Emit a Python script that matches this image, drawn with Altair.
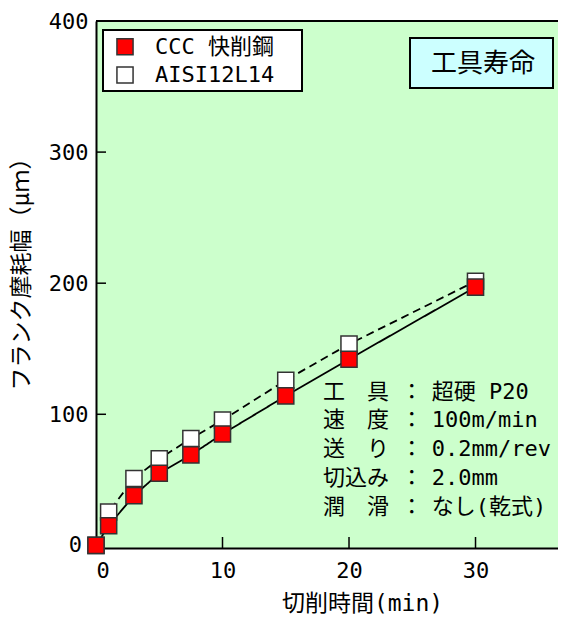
import altair as alt
import pandas as pd

# ---- data ----
time_min = [0, 1, 3, 5, 7.5, 10, 15, 20, 30]
ccc_wear = [0, 15, 38, 55, 69, 85, 114, 142, 197]
aisi_wear = [0, 25.5, 51, 66, 81.5, 95.5, 126, 153.5, 201.5]
series_names = ["CCC 快削鋼", "AISI12L14"]
series_fill = ["#ff0000", "#ffffff"]
x_ticks = [0, 10, 20, 30]
y_ticks = [0, 100, 200, 300, 400]
inner_x_ticks = [10, 20, 30]
inner_y_ticks = [100, 200, 300]
cond_labels = ["工　具", "速　度", "送　り", "切込み", "潤　滑"]
cond_values = ["超硬 P20", "100m/min", "0.2mm/rev", "2.0mm", "なし(乾式)"]
box_title = "工具寿命"
x_title = "切削時間(min)"
y_title = "フランク摩耗幅（μｍ）"

FONT = "DejaVu Sans Mono, Noto Sans CJK JP"
W, H = 462, 527

df = pd.DataFrame({
    "t": time_min + time_min,
    "wear": aisi_wear + ccc_wear,
    "series": [series_names[1]] * len(time_min) + [series_names[0]] * len(time_min),
})

xs = alt.Scale(domain=[0, 36.52], nice=False, zero=False)
ys = alt.Scale(domain=[-2, 400], nice=False, zero=False)

x_axis = alt.Axis(values=x_ticks, tickSize=0, labelPadding=12, labelFontSize=22,
                  labelFont=FONT, labelColor="black", title=x_title, titleFont=FONT,
                  titleFontSize=23, titleFontWeight="normal", titleColor="black",
                  titleX=266, titleY=55, titleBaseline="middle", titleAlign="center",
                  domainColor="black", domainWidth=2, grid=False)
y_axis = alt.Axis(values=y_ticks, tickSize=0, labelPadding=8, labelFontSize=22,
                  labelFont=FONT, labelColor="black", title=y_title, titleFont=FONT,
                  titleFontSize=23, titleFontWeight="normal", titleColor="black",
                  titleX=-75, titleY=247, titleBaseline="middle", titleAlign="center",
                  labelExpr="datum.value == 0 ? '' : datum.label",
                  domainColor="black", domainWidth=2, grid=False)

base = alt.Chart(df)
X = alt.X("t:Q", scale=xs, axis=x_axis)
Y = alt.Y("wear:Q", scale=ys, axis=y_axis)

lines = base.mark_line(color="black", strokeWidth=1.8).encode(
    x=X, y=Y,
    strokeDash=alt.StrokeDash("series:N", scale=alt.Scale(domain=series_names, range=[[1, 0], [8, 5]]), legend=None),
)

sq_white = base.transform_filter(alt.datum.series == series_names[1]).mark_square(
    size=260, opacity=1, stroke="#333333", strokeWidth=1.5, fill="#ffffff").encode(x=X, y=Y)
sq_red = base.transform_filter(alt.datum.series == series_names[0]).mark_square(
    size=260, opacity=1, stroke="#333333", strokeWidth=1.5, fill="#ff0000").encode(x=X, y=Y)

xt = alt.Chart(pd.DataFrame({"t": inner_x_ticks})).mark_rule(color="black", strokeWidth=1.5).encode(
    x=alt.X("t:Q", scale=xs), y=alt.value(H), y2=alt.value(H - 11))
yt = alt.Chart(pd.DataFrame({"wear": inner_y_ticks})).mark_rule(color="black", strokeWidth=1.5).encode(
    y=alt.Y("wear:Q", scale=ys), x=alt.value(0), x2=alt.value(10))

one = pd.DataFrame({"a": [0]})

top_border = alt.Chart(one).mark_rule(color="black", strokeWidth=2).encode(
    x=alt.value(0), x2=alt.value(W), y=alt.value(0))

zero_lbl = alt.Chart(pd.DataFrame({"wear": [0], "s": ["0"]})).mark_text(
    font=FONT, fontSize=22, align="right", baseline="middle", color="black").encode(
    text="s:N", y=alt.Y("wear:Q", scale=ys), x=alt.value(-14))

# legend
leg_box = alt.Chart(one).mark_rect(fill="white", stroke="black", strokeWidth=2).encode(
    x=alt.value(7), x2=alt.value(206), y=alt.value(9), y2=alt.value(70))
leg_layers = [leg_box]
for i, (name, col) in enumerate(zip(series_names, series_fill)):
    cy = 25.7 + i * 28.3
    leg_layers.append(alt.Chart(one).mark_square(size=260, opacity=1, fill=col, stroke="#333333", strokeWidth=1.5)
                      .encode(x=alt.value(29), y=alt.value(cy)))
    leg_layers.append(alt.Chart(pd.DataFrame({"s": [name]})).mark_text(
        font=FONT, fontSize=22, align="left", baseline="middle", color="black")
        .encode(text="s:N", x=alt.value(59), y=alt.value(cy)))

# tool life box
tl_box = alt.Chart(one).mark_rect(fill="#ccffff", stroke="black", strokeWidth=2).encode(
    x=alt.value(314), x2=alt.value(457), y=alt.value(17), y2=alt.value(67))
tl_text = alt.Chart(pd.DataFrame({"s": [box_title]})).mark_text(
    font=FONT, fontSize=26, align="center", baseline="middle", color="black").encode(
    text="s:N", x=alt.value(387), y=alt.value(42.5))

# conditions
cond_df = pd.DataFrame({
    "lab": ["\n".join(cond_labels)],
    "col": ["\n".join(["："] * len(cond_labels))],
    "val": ["\n".join(cond_values)],
})
cy_first = 370.7
cond_kw = dict(font=FONT, fontSize=22, baseline="middle", lineBreak="\n", lineHeight=28.75, color="black")
c1 = alt.Chart(cond_df).mark_text(align="left", **cond_kw).encode(text="lab:N", x=alt.value(227), y=alt.value(cy_first))
c2 = alt.Chart(cond_df).mark_text(align="center", **cond_kw).encode(text="col:N", x=alt.value(315.7), y=alt.value(cy_first))
c3 = alt.Chart(cond_df).mark_text(align="left", **cond_kw).encode(text="val:N", x=alt.value(335.7), y=alt.value(cy_first))

chart = alt.layer(lines, xt, yt, top_border, sq_white, sq_red, zero_lbl, *leg_layers,
                  tl_box, tl_text, c1, c2, c3).properties(
    width=W, height=H,
    autosize=alt.AutoSizeParams(type="none"),
    padding={"left": 88, "top": 13, "right": 0, "bottom": 70},
    background="white",
).configure_view(fill="#ccffcc", stroke=None)

chart.save("out.html", embed_options={"renderer": "svg", "actions": False})
